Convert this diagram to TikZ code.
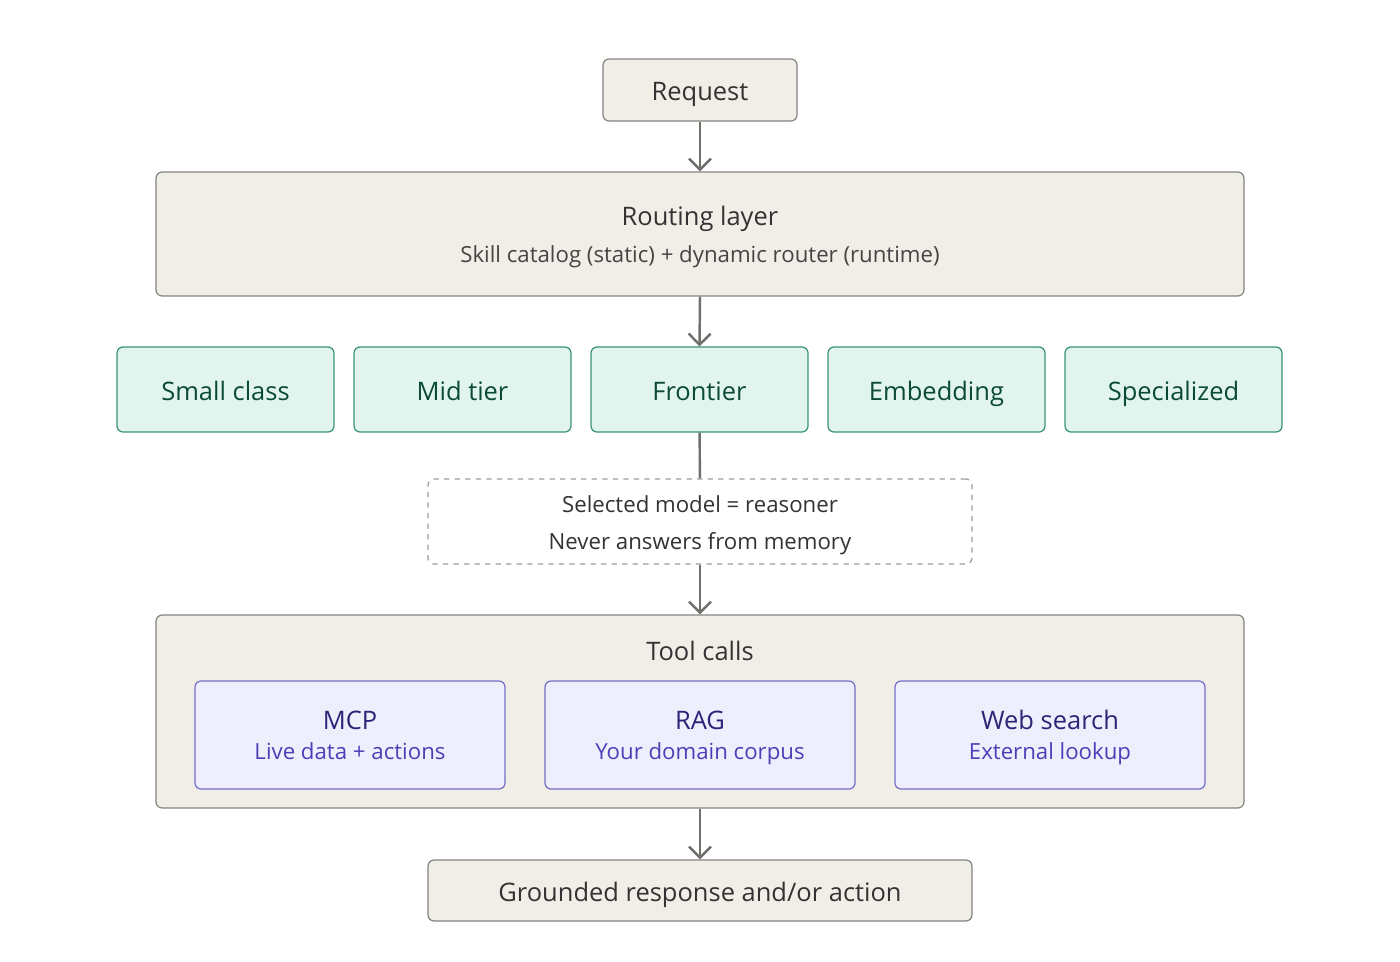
\documentclass[tikz,border=0pt]{standalone}
\usepackage{fontspec}
\setmainfont{Open Sans}
\usetikzlibrary{arrows.meta,positioning}
\definecolor{sandfill}{HTML}{F1EEE7}
\definecolor{sandedge}{HTML}{85847E}
\definecolor{mintfill}{HTML}{E1F5EE}
\definecolor{mintedge}{HTML}{3A9277}
\definecolor{minttext}{HTML}{0B4A36}
\definecolor{lilacfill}{HTML}{EEEEFC}
\definecolor{lilacedge}{HTML}{7470C9}
\definecolor{lilactext}{HTML}{2B2477}
\definecolor{lilacsub}{HTML}{4B40B8}
\definecolor{flowgray}{HTML}{6F6F6B}
\definecolor{inkgray}{HTML}{333333}
\definecolor{subgray}{HTML}{454545}
\newcommand{\headfont}{\fontsize{14.5}{18}\selectfont}
\newcommand{\notefont}{\fontsize{12.65}{16}\selectfont}

\begin{document}
\begin{tikzpicture}[x=0.02cm, y=-0.02cm,
      box/.style={draw, rounded corners=0.12cm, line width=0.7pt, inner sep=0pt},
      sand/.style={box, fill=sandfill, draw=sandedge, text=inkgray},
      boxtxt/.style={font=\headfont, text height=14.5pt, text depth=2.45pt},
      tier/.style={box, boxtxt, fill=mintfill, draw=mintedge, text=minttext,
                   minimum width=4.34cm, minimum height=1.7cm},
      tool/.style={box, fill=lilacfill, draw=lilacedge,
                   minimum width=6.2cm, minimum height=2.16cm},
      memo/.style={box, draw=sandedge!80, dashed},
      headtxt/.style={font=\headfont, text height=13.5pt, text depth=3.15pt,
                      inner sep=0pt, text=inkgray},
      notetxt/.style={font=\notefont, text height=12pt, text depth=2.97pt,
                      inner sep=0pt, text=subgray},
      flow/.style={draw=flowgray, line width=1.4pt},
      arr/.style={flow, -{Straight Barb[length=2.2mm, width=4.4mm]}}
    ]
    \useasboundingbox[fill=white] (0,0) rectangle (1400,961);

    \node[sand, boxtxt, minimum width=3.88cm, minimum height=1.24cm]
      (req) at (700,90) {Request};

    % routing layer
    \node[sand, minimum width=21.76cm, minimum height=2.48cm] (route) at (700,234) {};
    \node[headtxt] (routetitle) at (700,216) {Routing layer};
    \node[notetxt] (routesub) at (700,255)
      {Skill catalog (static) + dynamic router (runtime)};

    % model tiers
    \foreach \name/\lbl [count=\i] in {small/Small class, mid/Mid tier,
        front/Frontier, embed/Embedding, spec/Specialized}
      \node[tier] (\name) at ({225.5+237*(\i-1)},389.5) {\lbl};

    \node[memo, minimum width=10.88cm, minimum height=1.7cm] (reason) at (700,521.5) {};
    \node[notetxt, text=inkgray] (reason1) at (700,505) {Selected model = reasoner};
    \node[notetxt, text=inkgray] (reason2) at (700,542) {Never answers from memory};

    % tool calls
    \node[sand, minimum width=21.76cm, minimum height=3.86cm] (tools) at (700,711.5) {};
    \node[headtxt] (toolstitle) at (700,651) {Tool calls};
    \foreach \name/\head/\sub/\x in {mcp/MCP/Live data + actions/350,
        rag/RAG/Your domain corpus/700, web/Web search/External lookup/1050} {
      \node[tool] (\name) at (\x,735) {};
      \node[headtxt, text=lilactext] (\name head) at (\x,720) {\head};
      \node[notetxt, text=lilacsub] (\name sub) at (\x,752) {\sub};
    }

    \node[sand, boxtxt, minimum width=10.88cm, minimum height=1.22cm]
      (ground) at (700,890.5) {Grounded response and/or action};

    \draw[arr] (req) -- (route);
    \draw[arr] (route.south) -- (front.north);
    \draw[flow] (front) -- (reason);
    \draw[arr] (reason) -- (tools);
    \draw[arr] (tools) -- (ground);
  \end{tikzpicture}
\end{document}
